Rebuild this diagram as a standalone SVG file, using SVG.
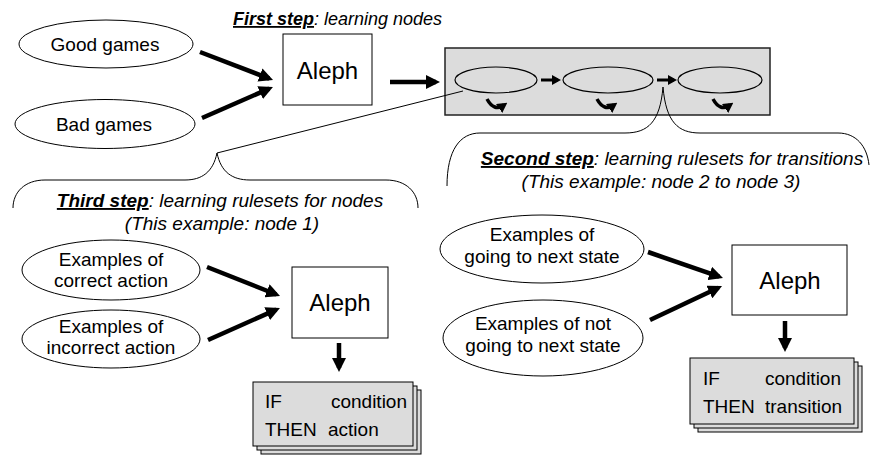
<svg xmlns="http://www.w3.org/2000/svg" width="870" height="455" viewBox="0 0 870 455">
<defs>
<style>
text{font-family:"Liberation Sans",Arial,sans-serif;fill:#000}
.t{font-size:19px}
.big{font-size:24px}
.ell{fill:#fff;stroke:#000;stroke-width:1}
.box{fill:#fff;stroke:#000;stroke-width:1}
.gray{fill:#dcdcdc;stroke:#000;stroke-width:1}
.inner{fill:none;stroke:#000;stroke-width:1.2}
.arr{fill:none;stroke:#000;stroke-width:4.5;marker-end:url(#ah)}
.sarr{fill:none;stroke:#000;stroke-width:3;marker-end:url(#sh)}
.hook{fill:none;stroke:#000;stroke-width:3.5;marker-end:url(#hh)}
.thin{fill:none;stroke:#000;stroke-width:1}
.hd{font-weight:bold;font-style:italic;text-decoration:underline}
.it{font-style:italic}
</style>
<marker id="ah" viewBox="0 0 14 14" markerWidth="14" markerHeight="14" refX="10" refY="7" orient="auto" markerUnits="userSpaceOnUse"><path d="M0,0 L14,7 L0,14 z" fill="#000"/></marker>
<marker id="sh" viewBox="0 0 9 10" markerWidth="9" markerHeight="10" refX="6" refY="5" orient="auto" markerUnits="userSpaceOnUse"><path d="M0,0 L9,5 L0,10 z" fill="#000"/></marker>
<marker id="hh" viewBox="0 0 10 11" markerWidth="10" markerHeight="11" refX="6" refY="5.5" orient="auto" markerUnits="userSpaceOnUse"><path d="M0,0 L10,5.5 L0,11 z" fill="#000"/></marker>
</defs>
<rect width="870" height="455" fill="#fff"/>

<g id="title1"><text class="t" x="233" y="25" style="font-size:18px"><tspan class="hd">First step</tspan><tspan class="it">: learning nodes</tspan></text></g>

<g id="good-games"><ellipse class="ell" cx="106" cy="44" rx="87" ry="24"/><text class="t" x="105" y="51" text-anchor="middle">Good games</text></g>
<g id="bad-games"><ellipse class="ell" cx="105" cy="124" rx="90" ry="24.5"/><text class="t" x="104" y="131" text-anchor="middle">Bad games</text></g>
<g id="aleph1"><rect class="box" x="283" y="34" width="89" height="71"/><text class="big" x="327.5" y="79" text-anchor="middle">Aleph</text></g>

<g id="node-chain">
<rect x="445" y="48" width="325" height="67" fill="#dcdcdc" stroke="#222" stroke-width="1.5"/>
<ellipse class="inner" cx="496" cy="80" rx="41" ry="13"/>
<ellipse class="inner" cx="608" cy="80" rx="45" ry="13"/>
<ellipse class="inner" cx="720" cy="80" rx="42" ry="13"/>
</g>

<g id="third-step">
<text class="t" x="220" y="207" text-anchor="middle"><tspan class="hd">Third step</tspan><tspan class="it">: learning rulesets for nodes</tspan></text>
<text class="t it" x="222" y="230" text-anchor="middle">(This example: node 1)</text>
</g>
<g id="second-step">
<text class="t" x="672" y="165" text-anchor="middle"><tspan class="hd">Second step</tspan><tspan class="it">: learning rulesets for transitions</tspan></text>
<text class="t it" x="661" y="188" text-anchor="middle">(This example: node 2 to node 3)</text>
</g>

<g id="correct"><ellipse class="ell" cx="111" cy="270" rx="89" ry="30"/><text class="t" x="111" y="266" text-anchor="middle">Examples of</text><text class="t" x="111" y="287" text-anchor="middle">correct action</text></g>
<g id="incorrect"><ellipse class="ell" cx="111" cy="339" rx="89" ry="29"/><text class="t" x="111" y="333" text-anchor="middle">Examples of</text><text class="t" x="111" y="354" text-anchor="middle">incorrect action</text></g>
<g id="aleph2"><rect class="box" x="292" y="267" width="96" height="71"/><text class="big" x="340" y="311" text-anchor="middle">Aleph</text></g>
<g id="rules1">
<rect class="gray" x="261" y="390" width="160" height="64"/>
<rect class="gray" x="257" y="386" width="160" height="64"/>
<rect class="gray" x="253" y="382" width="160" height="64"/>
<text class="t" x="265" y="408">IF</text><text class="t" x="407" y="408" text-anchor="end">condition</text>
<text class="t" x="265" y="436">THEN</text><text class="t" x="328" y="436">action</text>
</g>

<g id="going"><ellipse class="ell" cx="542" cy="249" rx="102" ry="34"/><text class="t" x="542" y="241" text-anchor="middle">Examples of</text><text class="t" x="542" y="263" text-anchor="middle">going to next state</text></g>
<g id="not-going"><ellipse class="ell" cx="543" cy="338" rx="100" ry="38"/><text class="t" x="543" y="330" text-anchor="middle">Examples of not</text><text class="t" x="543" y="352" text-anchor="middle">going to next state</text></g>
<g id="aleph3"><rect class="box" x="732" y="245" width="115" height="70"/><text class="big" x="790" y="289" text-anchor="middle">Aleph</text></g>
<g id="rules2">
<rect class="gray" x="698" y="366" width="164" height="66"/>
<rect class="gray" x="694" y="362" width="164" height="66"/>
<rect class="gray" x="690" y="358" width="164" height="66"/>
<text class="t" x="703" y="385">IF</text><text class="t" x="841" y="385" text-anchor="end">condition</text>
<text class="t" x="703" y="413">THEN</text><text class="t" x="765" y="413">transition</text>
</g>

<g id="connectors">
<line class="arr" x1="200" y1="52" x2="269.3" y2="78.6"/>
<line class="arr" x1="202" y1="118" x2="269.3" y2="88.6"/>
<line class="arr" x1="390" y1="82" x2="436" y2="82"/>
<line class="sarr" x1="541" y1="80" x2="558" y2="80"/>
<line class="sarr" x1="657" y1="80" x2="674" y2="80"/>
<path class="hook" d="M487,99 Q494,112 504,105"/>
<path class="hook" d="M597,99 Q604,112 614,105"/>
<path class="hook" d="M713,99 Q720,112 730,105"/>
<line class="thin" x1="217" y1="153" x2="463" y2="91"/>
<path class="thin" d="M217,153 C213,172 202,180 185,180 L45,180 C25,180 13,192 13,208"/>
<path class="thin" d="M217,153 C221,172 232,180 250,180 L386,180 C406,180 418,192 418,208"/>
<path class="thin" d="M663,87 C660,122 648,133 625,133 L480,133 C460,133 447,150 447,186"/>
<path class="thin" d="M663,87 C666,122 678,133 700,133 L838,133 C856,133 867,146 869,165"/>
<line class="arr" x1="207" y1="267" x2="276.3" y2="294.5"/>
<line class="arr" x1="208" y1="340" x2="276.3" y2="309.6"/>
<line class="arr" x1="339" y1="343" x2="339" y2="368"/>
<line class="arr" x1="648" y1="252" x2="719.2" y2="276.7"/>
<line class="arr" x1="650" y1="320" x2="718.4" y2="287.7"/>
<line class="arr" x1="785" y1="321" x2="785" y2="348"/>
</g>
</svg>
